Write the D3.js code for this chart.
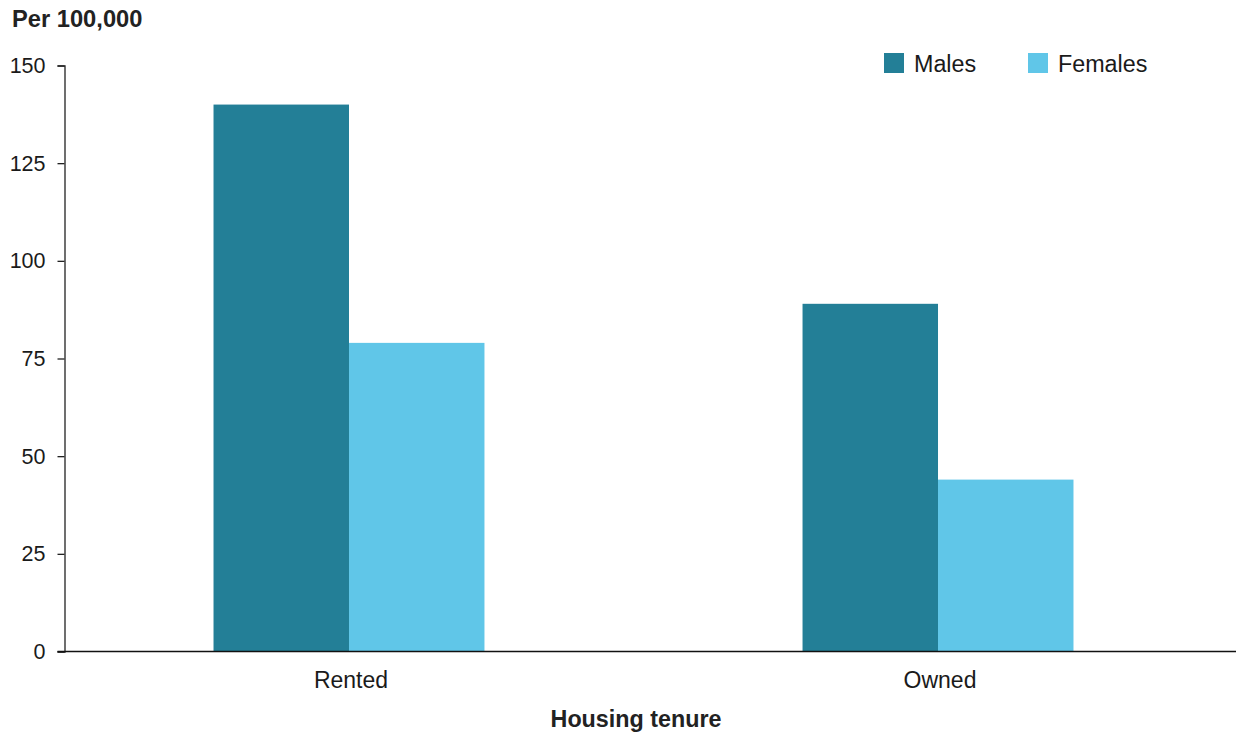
<!DOCTYPE html>
<html>
<head>
<meta charset="utf-8">
<script src="https://cdn.jsdelivr.net/npm/d3@7"></script>
<style>
  html, body { margin: 0; padding: 0; background: #fff; }
  svg { display: block; font-family: "Liberation Sans", Arial, sans-serif; }
</style>
</head>
<body>
<svg id="chart" width="1236" height="733"></svg>
<script>
const categories = ["Rented", "Owned"];
const seriesNames = ["Males", "Females"];
const males = [140, 89];
const females = [79, 44];
const yTicks = [0, 25, 50, 75, 100, 125, 150];
const colors = ["#237f97", "#60c6e8"];

const data = categories.map((c, i) => ({ cat: c, values: [males[i], females[i]] }));

const svg = d3.select("#chart");
const x0 = 64.5, xEnd = 1222.5, y0 = 651.5, yTop = 65.5;

const x = d3.scaleBand().domain(categories).range([x0, xEnd]).paddingInner(0.54).paddingOuter(0.253);
const xs = d3.scaleBand().domain(seriesNames).range([0, x.bandwidth()]).padding(0);
const y = d3.scaleLinear().domain([0, 150]).range([y0, yTop]);

// bars
const g = svg.append("g");
data.forEach(d => {
  g.selectAll(null).data(d.values).enter().append("rect")
    .attr("x", (v, j) => x(d.cat) + xs(seriesNames[j]))
    .attr("y", v => y(v))
    .attr("width", xs.bandwidth())
    .attr("height", v => y(0) - y(v))
    .attr("fill", (v, j) => colors[j]);
});

// y axis
const yAxis = d3.axisLeft(y).tickValues(yTicks).tickSize(7).tickPadding(12).tickFormat(d3.format("d"));
const ya = svg.append("g").attr("transform", `translate(${x0},0)`).call(yAxis);
ya.select(".domain").attr("stroke", "#222").attr("stroke-width", 1.3);
ya.selectAll(".tick line").attr("stroke", "#222").attr("stroke-width", 1.3);
ya.selectAll(".tick text").attr("font-size", 21.5).attr("fill", "#1a1a1a")
  .attr("font-family", "Liberation Sans, Arial, sans-serif");

// x axis line
svg.append("line").attr("x1", x0 - 7).attr("x2", 1236).attr("y1", y0).attr("y2", y0)
  .attr("stroke", "#111").attr("stroke-width", 1.6);

// category labels
svg.selectAll(".cat").data(categories).enter().append("text")
  .attr("x", d => x(d) + x.bandwidth() / 2 + 2)
  .attr("y", 688)
  .attr("text-anchor", "middle")
  .attr("font-size", 23)
  .attr("fill", "#1a1a1a")
  .text(d => d);

// axis titles
svg.append("text").attr("x", 12).attr("y", 27).attr("font-size", 23.7).attr("font-weight", "bold")
  .attr("fill", "#222").text("Per 100,000");
svg.append("text").attr("x", 636).attr("y", 727).attr("text-anchor", "middle")
  .attr("font-size", 23.3).attr("font-weight", "bold").attr("fill", "#222").text("Housing tenure");

// legend
const legendX = [884, 1028];
const lg = svg.append("g");
seriesNames.forEach((s, i) => {
  lg.append("rect").attr("x", legendX[i]).attr("y", 53).attr("width", 20).attr("height", 20).attr("fill", colors[i]);
  lg.append("text").attr("x", legendX[i] + 30).attr("y", 71.5).attr("font-size", 23.3).attr("fill", "#1a1a1a").text(s);
});
</script>
</body>
</html>
